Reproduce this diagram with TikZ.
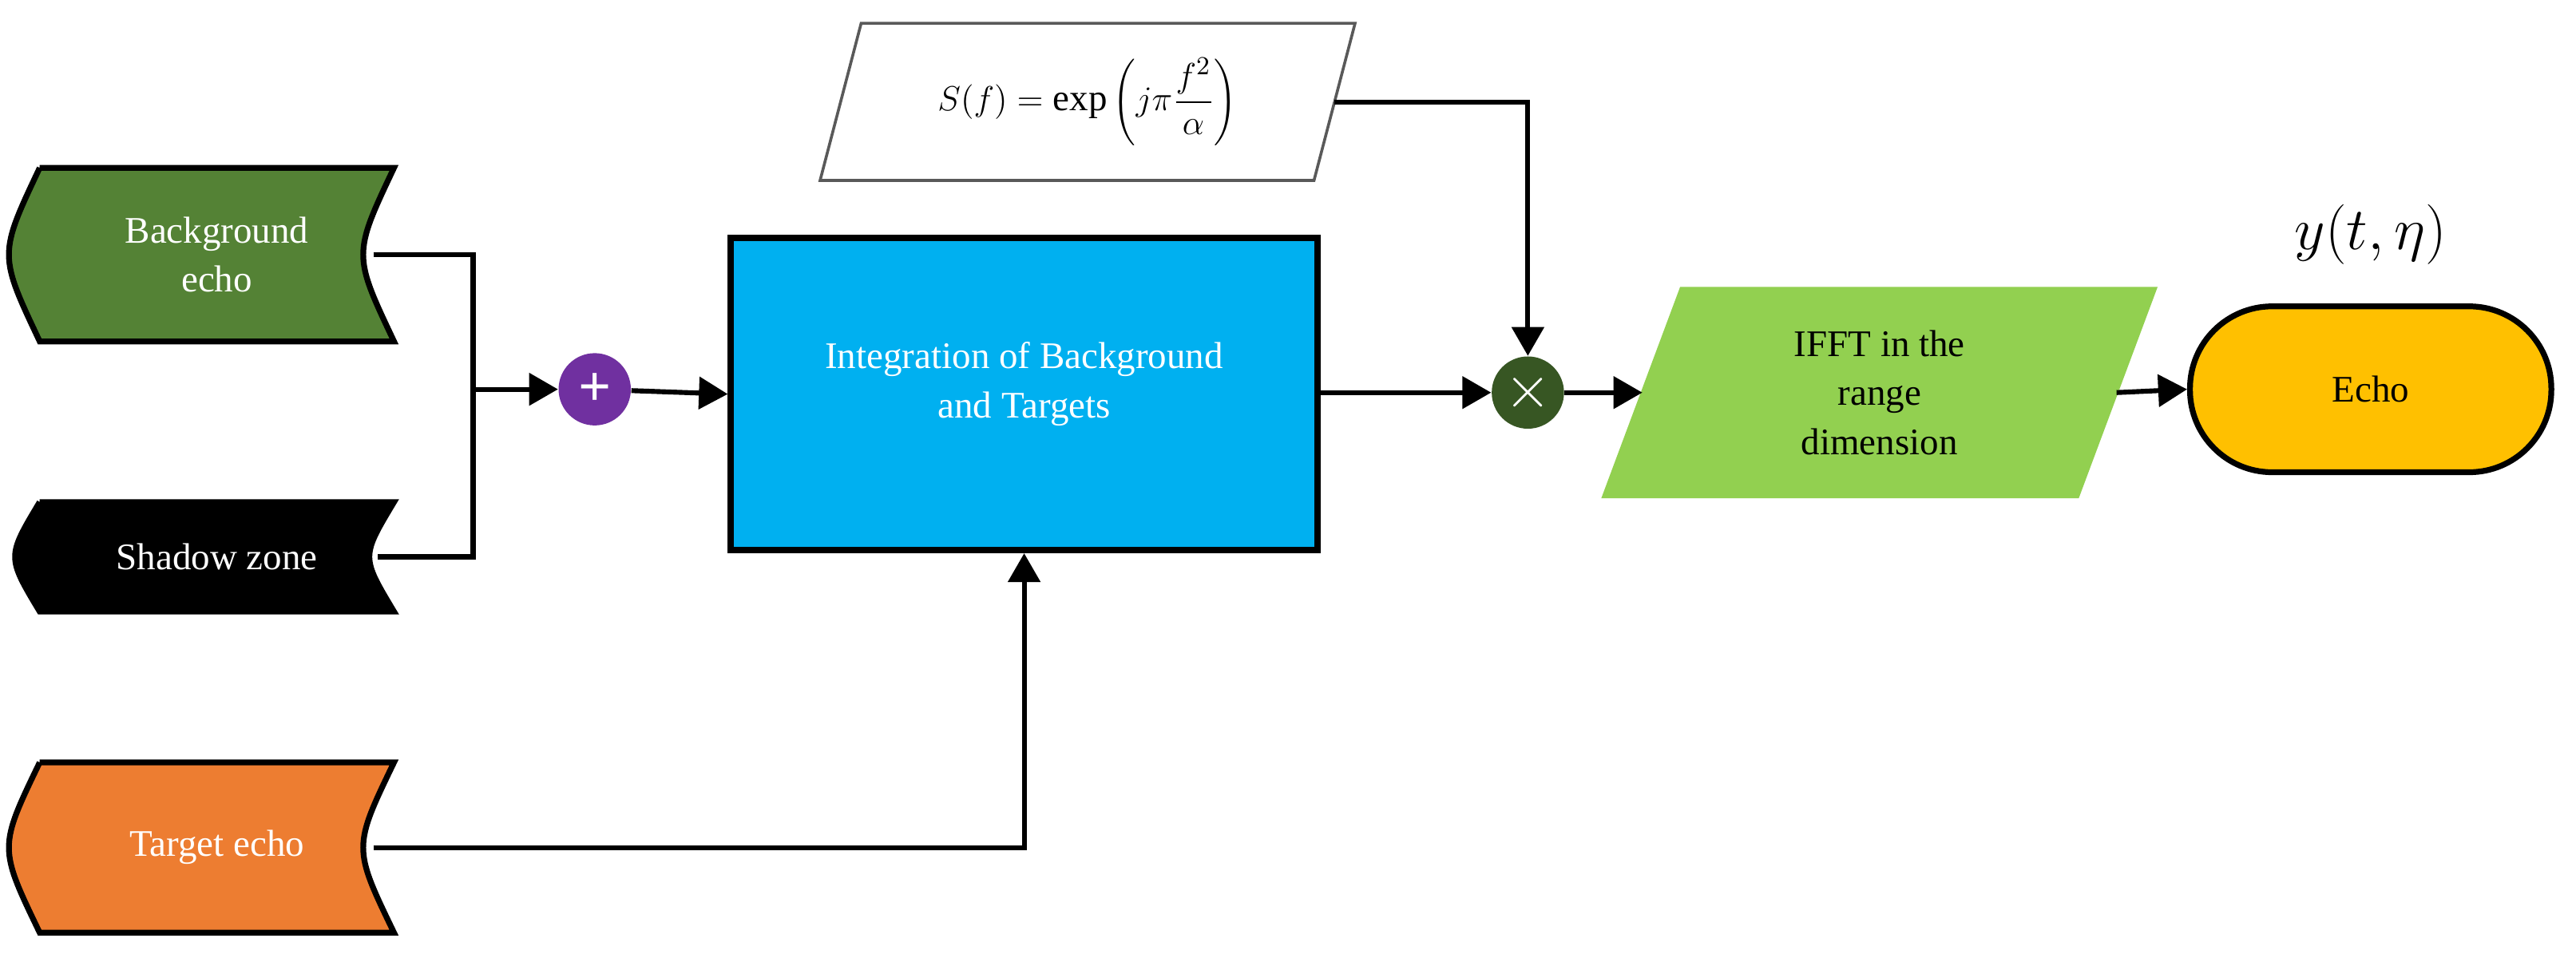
\documentclass[tikz,border=0pt]{standalone}
\usepackage{fontspec}
\setmainfont{Liberation Serif}
\usetikzlibrary{arrows.meta,positioning}

\definecolor{bggreen}{RGB}{84,130,53}
\definecolor{tgorange}{RGB}{237,125,49}
\definecolor{sumpurple}{RGB}{112,48,160}
\definecolor{blockblue}{RGB}{0,176,240}
\definecolor{multgreen}{RGB}{55,86,35}
\definecolor{ifftgreen}{RGB}{146,208,80}
\definecolor{echoyellow}{RGB}{255,192,0}

\tikzset{
  lbl/.style={inner sep=0pt, align=center, font=\fontsize{13}{17}\selectfont},
  link/.style={line width=1.7pt, draw=black},
  arr/.style={link, -{Triangle[length=10pt,width=11pt]}},
  sumop/.style={circle, minimum size=0.88cm, inner sep=0pt, text=white, font=\bfseries\fontsize{20}{20}\selectfont},
}
% tape-like input shape around a node
\newcommand{\tapebox}[3]{%
  \fill[#2, draw=black, line width=2pt]
    (#1.north west) -- (#1.north east)
    .. controls ([xshift=-#3]#1.east) .. (#1.south east)
    -- (#1.south west)
    .. controls ([xshift=-#3]#1.west) .. (#1.north west);}

\begin{document}
\begin{tikzpicture}[x=0.02cm, y=-0.02cm]
\useasboundingbox (0,0) rectangle (1568,583);

% inputs
\node[lbl, minimum width=4.3cm, minimum height=2.1cm] (bg) at (132,155) {};
\tapebox{bg}{bggreen}{0.5cm}
\node[lbl, text=white] at (bg) {Background\\echo};

\node[lbl, minimum width=4.3cm, minimum height=1.32cm] (sz) at (132,339) {};
\tapebox{sz}{black}{0.4cm}
\node[lbl, text=white] at (sz) {Shadow zone};

\node[lbl, minimum width=4.3cm, minimum height=2.06cm] (te) at (132,516) {};
\tapebox{te}{tgorange}{0.5cm}
\node[lbl, text=white] at (te) {Target echo};

% summation
\node[sumop, fill=sumpurple] (plus) at (362,237) {+};
\coordinate (join) at (288,237);
\draw[link] ([xshift=-0.25cm]bg.east) -- (288,155) -- (288,339) -- ([xshift=-0.2cm]sz.east);
\draw[arr] (join) -- (plus);

% integration block
\node[lbl, draw=black, line width=2.2pt, fill=blockblue,
      minimum width=7.14cm, minimum height=3.8cm, anchor=north west] (integ) at (443,143) {};
\node[lbl, text=white, below=1.3cm of integ.north] {Integration of Background\\and Targets};
\draw[arr] (plus) -- (integ.west);
\draw[arr] ([xshift=-0.25cm]te.east) -| (integ.south);

% chirp reference
\node[lbl, minimum width=6.5cm, minimum height=1.9cm] (chirp) at (662,62)
  {$S(f)=\exp\left(j\pi\displaystyle\frac{f^2}{\alpha}\right)$};
\draw[gray!70!black, line width=1pt] ([xshift=0.5cm]chirp.north west) -- (chirp.north east)
  -- ([xshift=-0.5cm]chirp.south east) -- (chirp.south west) -- cycle;

% multiplication
\node[sumop, fill=multgreen] (mult) at (930,239) {$\times$};
\draw[arr] (integ.east |- mult) -- (mult);
\draw[arr] ([xshift=-0.25cm]chirp.east) -| (mult.north);

% IFFT
\node[lbl, minimum width=6.76cm, minimum height=2.56cm] (ifft) at (1144,239) {};
\fill[ifftgreen] ([xshift=0.96cm]ifft.north west) -- (ifft.north east)
  -- ([xshift=-0.96cm]ifft.south east) -- (ifft.south west) -- cycle;
\node[lbl, text=black] at (ifft) {IFFT in the\\range\\dimension};
\draw[arr] (mult) -- ([xshift=0.5cm]ifft.west);

% output
\node[lbl, draw=black, line width=2pt, rounded corners=1cm, fill=echoyellow,
      minimum width=4.4cm, minimum height=2.02cm] (echo) at (1443,237) {Echo};
\draw[arr] ([xshift=-0.5cm]ifft.east) -- (echo.west);
\node[font=\fontsize{21}{21}\selectfont, above=0.35cm of echo] {$y(t,\eta)$};
\end{tikzpicture}
\end{document}
